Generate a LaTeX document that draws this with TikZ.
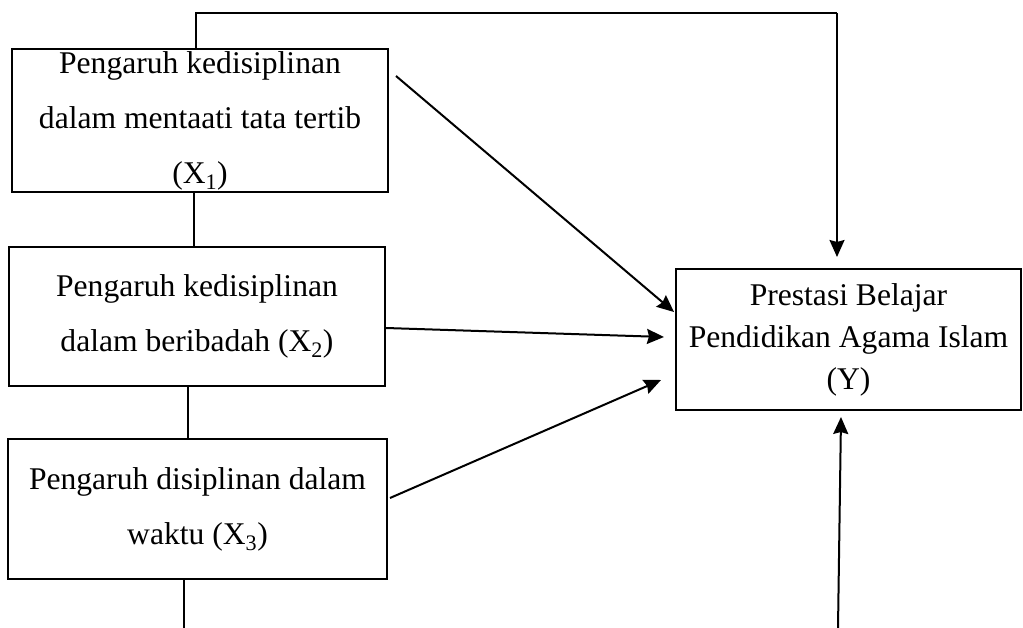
\documentclass[tikz,border=0pt]{standalone}
\usepackage{fontspec}
\setmainfont{Liberation Serif}
\usetikzlibrary{arrows.meta,calc}
\tikzstyle{box}=[draw,rectangle,line width=2pt,inner sep=0pt,align=center,font=\fontsize{31.6}{55}\selectfont]
\tikzstyle{result box}=[box,font=\fontsize{31.6}{42}\selectfont]
\tikzstyle{link}=[draw,line width=1.2pt]
\tikzstyle{effect}=[draw,line width=2pt,-{Stealth[length=17pt,width=15pt,inset=2pt]}]

\begin{document}
\begin{tikzpicture}[x=1pt,y=-1pt]
    \useasboundingbox (0,0) rectangle (1023,628);
    % First we draw the boxes
    \node[box,minimum width=376pt,minimum height=143pt] (X1) at (200,120.5)
        {Pengaruh kedisiplinan\\dalam mentaati tata tertib\\(X\textsubscript{1})};
    \node[box,minimum width=376pt,minimum height=139pt] (X2) at (197,316.5)
        {Pengaruh kedisiplinan\\dalam beribadah (X\textsubscript{2})};
    \node[box,minimum width=379pt,minimum height=140pt] (X3) at (197.5,509)
        {Pengaruh disiplinan dalam\\waktu (X\textsubscript{3})};
    \node[result box,minimum width=345pt,minimum height=141pt] (Y) at (848.5,339.5)
        {Prestasi Belajar\\Pendidikan Agama Islam\\(Y)};

    % Points for the plain lines
    \coordinate (topL) at (196,13);
    \coordinate (topR) at (837,13);
    \coordinate (c1) at (194,0);
    \coordinate (c2) at (188,0);
    \coordinate (c3) at (184,628);
    \coordinate (bottom) at (838,628);

    % Connect the boxes with lines
    \path[link] (X1.north -| topL) -- (topL) -- (topR);
    \path[effect] (topR) -- ([yshift=11pt]Y.north -| topR);
    \path[link] (X1.south -| c1) -- (X2.north -| c1);
    \path[link] (X2.south -| c2) -- (X3.north -| c2);
    \path[link] (X3.south -| c3) -- (c3);

    % Arrows into the result
    \path[effect] ($(X1.north east)+(7,28)$) -- ($(Y.north west)+(-1,44)$);
    \path[effect] ($(X2.east)+(0,11.5)$) -- ($(Y.west)+(-11,-2.5)$);
    \path[effect] ($(X3.east)+(2,-11)$) -- ($(Y.west)+(-14,40.5)$);
    \path[effect] (bottom) -- ($(Y.south)+(-7.5,6)$);
\end{tikzpicture}
\end{document}
